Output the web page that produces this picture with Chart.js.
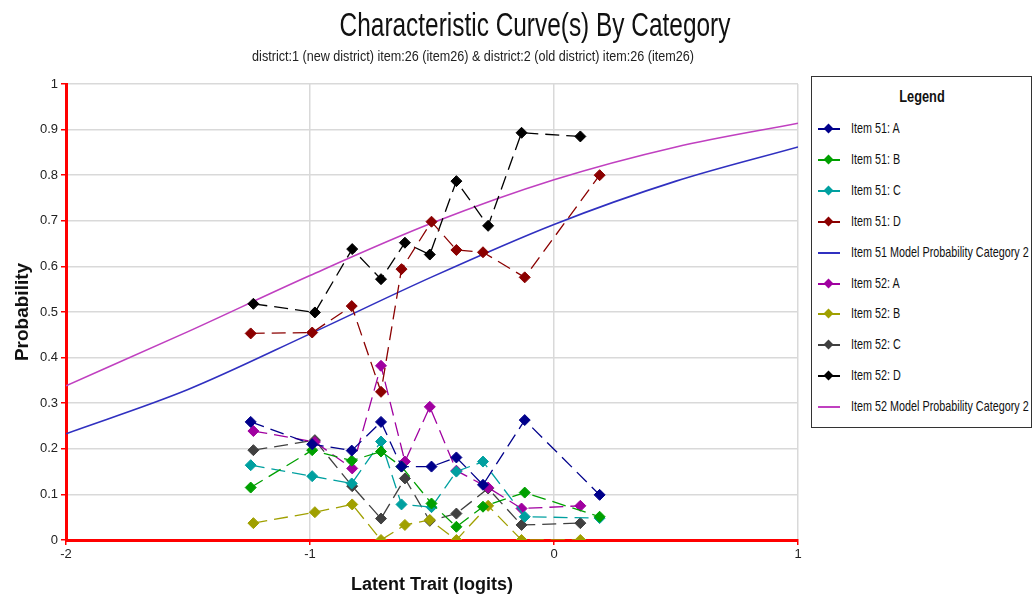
<!DOCTYPE html>
<html>
<head>
<meta charset="utf-8">
<script src="https://cdn.jsdelivr.net/npm/chart.js@4.4.1/dist/chart.umd.min.js"></script>
<style>
  body { margin: 0; background: #fff; }
  #wrap { position: relative; width: 1035px; height: 601px; font-family: 'Liberation Sans', Arial, sans-serif; }
  #wrap canvas { position: absolute; left: 0; top: 0; }
  #title { position: absolute; left: 535px; top: 6px; white-space: nowrap; font-size: 33px; color: #111; transform: translateX(-50%) scaleX(0.74); }
  #subtitle { position: absolute; left: 473px; top: 48px; white-space: nowrap; font-size: 14px; color: #222; transform: translateX(-50%) scaleX(0.9); }
  #legend { position: absolute; left: 811px; top: 76px; width: 219px; height: 350px; border: 1.5px solid #333; background: #fff; }
  #legend .head { position: absolute; left: 110px; top: 11px; white-space: nowrap; font-weight: bold; font-size: 16px; color: #111; transform: translateX(-50%) scaleX(0.8); }
  #legend .row { position: absolute; left: 0; height: 20px; width: 100%; }
  #legend .sym { position: absolute; left: 6px; top: 9px; width: 22px; height: 2px; }
  #legend .dot { position: absolute; left: 13px; top: 6px; width: 7px; height: 7px; transform: rotate(45deg); }
  #legend .lbl { position: absolute; left: 39px; top: 0px; font-size: 15px; color: #111; white-space: nowrap; transform-origin: left center; transform: scaleX(0.72); }
</style>
</head>
<body>
<div id="wrap">
  <canvas id="chart" width="1035" height="601"></canvas>
  <div id="title">Characteristic Curve(s) By Category</div>
  <div id="subtitle">district:1 (new district) item:26 (item26) &amp; district:2 (old district) item:26 (item26)</div>
  <div id="legend"><div class="head">Legend</div></div>
</div>
<script>
// logit positions of the observed points
const x51 = [-1.243, -0.991, -0.829, -0.709, -0.625, -0.502, -0.400, -0.291, -0.120, 0.187];
const x52 = [-1.232, -0.980, -0.827, -0.709, -0.611, -0.509, -0.400, -0.270, -0.133, 0.108];

const item51A = [0.259, 0.21, 0.196, 0.259, 0.161, 0.161, 0.181, 0.121, 0.263, 0.099];
const item51B = [0.115, 0.197, 0.174, 0.194, 0.161, 0.08, 0.029, 0.073, 0.104, 0.051];
const item51C = [0.164, 0.140, 0.124, 0.216, 0.078, 0.072, 0.15, 0.172, 0.051, 0.048];
const item51D = [0.453, 0.455, 0.513, 0.325, 0.594, 0.698, 0.636, 0.631, 0.576, 0.800];
const item52A = [0.239, 0.215, 0.157, 0.382, 0.172, 0.292, 0.152, 0.115, 0.069, 0.075];
const item52B = [0.037, 0.061, 0.078, 0, 0.033, 0.044, 0, 0.075, 0, 0];
const item52C = [0.197, 0.219, 0.118, 0.047, 0.135, 0.042, 0.058, 0.113, 0.033, 0.037];
const item52D = [0.518, 0.499, 0.638, 0.572, 0.652, 0.626, 0.787, 0.689, 0.893, 0.885];

// model curves
const modelX = [-2, -1.5, -1, -0.5, 0, 0.5, 1];
const model51 = [0.233, 0.33, 0.452, 0.577, 0.692, 0.787, 0.862];
const model52 = [0.338, 0.457, 0.58, 0.695, 0.79, 0.862, 0.914];

const legendLabels = [
  "Item 51: A", "Item 51: B", "Item 51: C", "Item 51: D",
  "Item 51 Model Probability Category 2",
  "Item 52: A", "Item 52: B", "Item 52: C", "Item 52: D",
  "Item 52 Model Probability Category 2"
];

const colors = ["#00008b", "#00a000", "#00a0a0", "#8b0000", "#3030c0",
                "#a000a0", "#a0a000", "#404040", "#000000", "#c040c0"];

function pts(xs, ys) {
  return xs.map(function (x, i) { return { x: x, y: ys[i] }; });
}

function observed(i, xs, ys) {
  return {
    label: legendLabels[i],
    data: pts(xs, ys),
    borderColor: colors[i],
    backgroundColor: colors[i],
    borderWidth: 1.3,
    borderDash: [14, 7],
    pointStyle: "rectRot",
    pointRadius: 5.5,
    pointBorderWidth: 1,
    tension: 0
  };
}

function model(i, ys) {
  return {
    label: legendLabels[i],
    data: pts(modelX, ys),
    borderColor: colors[i],
    borderWidth: 1.6,
    pointRadius: 0,
    cubicInterpolationMode: "monotone"
  };
}

const datasets = [
  observed(0, x51, item51A),
  observed(1, x51, item51B),
  observed(2, x51, item51C),
  observed(3, x51, item51D),
  model(4, model51),
  observed(5, x52, item52A),
  observed(6, x52, item52B),
  observed(7, x52, item52C),
  observed(8, x52, item52D),
  model(9, model52)
];

// html legend
const legendBox = document.getElementById("legend");
legendLabels.forEach(function (lab, i) {
  const row = document.createElement("div");
  row.className = "row";
  row.style.top = (42 + i * 30.9) + "px";
  let html = '<span class="sym" style="background:' + colors[i] + '"></span>';
  if (i !== 4 && i !== 9) {
    html += '<span class="dot" style="background:' + colors[i] + '"></span>';
  }
  html += '<span class="lbl">' + lab + '</span>';
  row.innerHTML = html;
  legendBox.appendChild(row);
});

const sans = "'Liberation Sans', Arial, sans-serif";

new Chart(document.getElementById("chart"), {
  type: "line",
  data: { datasets: datasets },
  options: {
    responsive: false,
    animation: false,
    layout: { padding: { top: 84, right: 237, left: 0, bottom: 0 } },
    plugins: {
      legend: { display: false },
      tooltip: { enabled: false }
    },
    scales: {
      x: {
        type: "linear",
        min: -2,
        max: 1,
        ticks: { stepSize: 1, color: "#222", font: { family: sans, size: 13 }, padding: 2 },
        grid: { color: "#d9d9d9", lineWidth: 1.5, tickColor: "#ff0000", tickLength: 5 },
        border: { color: "#ff0000", width: 3 },
        title: {
          display: true,
          text: "Latent Trait (logits)",
          color: "#111",
          font: { family: sans, size: 18, weight: "bold" },
          padding: { top: 0, bottom: 5 }
        },
        afterFit: function (scale) { scale.height = 61; }
      },
      y: {
        min: 0,
        max: 1,
        ticks: {
          stepSize: 0.1,
          color: "#222",
          font: { family: sans, size: 13 },
          padding: 3,
          callback: function (v) { return String(Number(v.toFixed(1))); }
        },
        grid: { color: "#d9d9d9", lineWidth: 1.5, tickColor: "#ff0000", tickLength: 5 },
        border: { color: "#ff0000", width: 3 },
        title: {
          display: true,
          text: "Probability",
          color: "#111",
          font: { family: sans, size: 19, weight: "bold" },
          padding: { top: 11, bottom: 0 }
        },
        afterFit: function (scale) { scale.width = 66; }
      }
    }
  }
});
</script>
</body>
</html>
